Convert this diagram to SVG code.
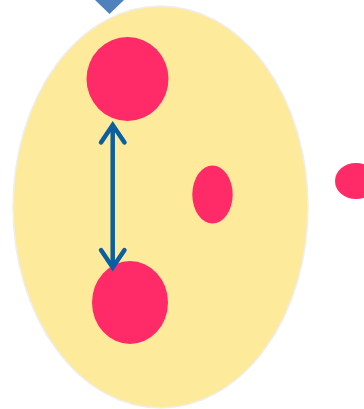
<svg xmlns="http://www.w3.org/2000/svg" width="364" height="409" viewBox="0 0 364 409">
<style>
.cell{fill:#FDEB9B;stroke:#EEEEEE;stroke-width:1.5}
.dot{fill:#FF2A67}
.conn{stroke:#0B5E9F;stroke-width:4.5;fill:none;stroke-linecap:round;stroke-linejoin:miter}
</style>
<rect width="364" height="409" fill="#FFFFFF"/>
<g id="diamond"><polygon points="95,0 109.5,14 124,0 109.5,-14" fill="#4F81BD"/></g>
<g id="cell"><ellipse class="cell" cx="160.5" cy="207" rx="147.5" ry="201"/></g>
<g id="top"><ellipse class="dot" cx="127.5" cy="79" rx="41" ry="42"/></g>
<g id="bottom"><ellipse class="dot" cx="130" cy="302.5" rx="38" ry="41.5"/></g>
<g id="middle"><ellipse class="dot" cx="212.5" cy="194.5" rx="20.2" ry="29"/></g>
<g id="outside"><ellipse class="dot" cx="356" cy="181" rx="21" ry="18"/></g>
<g id="connectors">
<line class="conn" x1="112.7" y1="128" x2="112.7" y2="265"/>
<polyline class="conn" points="101,142.5 112.7,125 124.5,142.5"/>
<polyline class="conn" points="101,250 112.7,267.5 124.5,250"/>
</g>
</svg>
